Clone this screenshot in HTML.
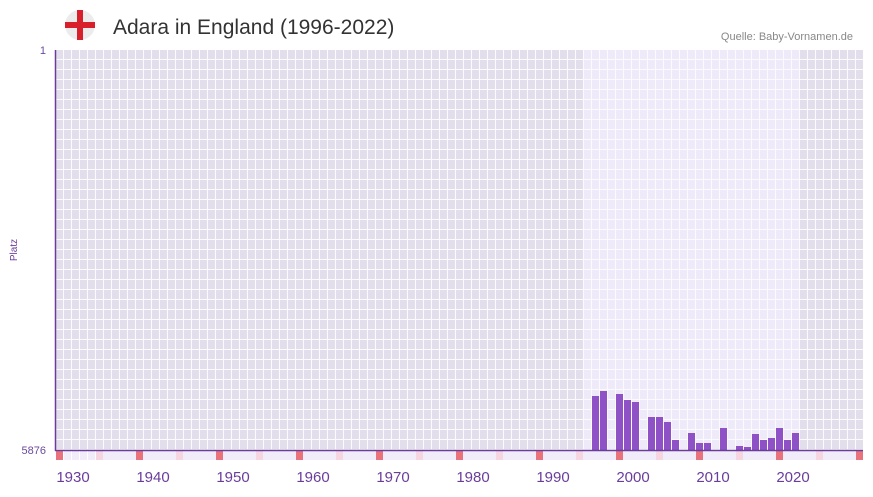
<!DOCTYPE html><html><head><style>body{margin:0;background:#fff}</style></head><body>
<svg width="873" height="492" xmlns="http://www.w3.org/2000/svg" font-family="Liberation Sans, sans-serif">
<defs>
<pattern id="gl" x="56" y="50" width="8" height="10" patternUnits="userSpaceOnUse">
<rect x="7" y="0" width="1" height="10" fill="#fbfafd"/>
<rect x="0" y="9" width="8" height="1" fill="#fbfafd"/>
</pattern>
</defs>
<rect x="56" y="50" width="807" height="400" fill="#e3deec"/>
<rect x="583.5" y="50" width="216" height="400" fill="#efeaf9"/>
<rect x="56" y="50" width="807" height="400" fill="url(#gl)"/>
<g fill="#8e52c6">
<rect x="592" y="396" width="7" height="54"/><rect x="600" y="391" width="7" height="59"/>
<rect x="616" y="394" width="7" height="56"/><rect x="624" y="400" width="7" height="50"/>
<rect x="632" y="402" width="7" height="48"/><rect x="648" y="417" width="7" height="33"/>
<rect x="656" y="417" width="7" height="33"/><rect x="664" y="422" width="7" height="28"/>
<rect x="672" y="440" width="7" height="10"/><rect x="688" y="433" width="7" height="17"/>
<rect x="696" y="443" width="7" height="7"/><rect x="704" y="443" width="7" height="7"/>
<rect x="720" y="428" width="7" height="22"/><rect x="736" y="446" width="7" height="4"/>
<rect x="744" y="447" width="7" height="3"/><rect x="752" y="434" width="7" height="16"/>
<rect x="760" y="440" width="7" height="10"/><rect x="768" y="438" width="7" height="12"/>
<rect x="776" y="428" width="7" height="22"/><rect x="784" y="440" width="7" height="10"/>
<rect x="792" y="433" width="7" height="17"/>
</g>
<rect x="56" y="451" width="807" height="9" fill="#f1ecf9"/>
<g fill="#f5d5df">
<rect x="96" y="451" width="7" height="9"/><rect x="176" y="451" width="7" height="9"/><rect x="256" y="451" width="7" height="9"/><rect x="336" y="451" width="7" height="9"/><rect x="416" y="451" width="7" height="9"/><rect x="496" y="451" width="7" height="9"/><rect x="576" y="451" width="7" height="9"/><rect x="656" y="451" width="7" height="9"/><rect x="736" y="451" width="7" height="9"/><rect x="816" y="451" width="7" height="9"/>
</g>
<g fill="#e8737c">
<rect x="56" y="451" width="7" height="9"/><rect x="136" y="451" width="7" height="9"/><rect x="216" y="451" width="7" height="9"/><rect x="296" y="451" width="7" height="9"/><rect x="376" y="451" width="7" height="9"/><rect x="456" y="451" width="7" height="9"/><rect x="536" y="451" width="7" height="9"/><rect x="616" y="451" width="7" height="9"/><rect x="696" y="451" width="7" height="9"/><rect x="776" y="451" width="7" height="9"/><rect x="856" y="451" width="7" height="9"/>
</g>
<g fill="#fff">
<rect x="63" y="451" width="1" height="9"/><rect x="71" y="451" width="1" height="9"/><rect x="79" y="451" width="1" height="9"/><rect x="87" y="451" width="1" height="9"/><rect x="95" y="451" width="1" height="9"/>
</g>
<rect x="56" y="451" width="807" height="9" fill="url(#gl)" fill-opacity="0"/>
<line x1="55.5" y1="50" x2="55.5" y2="451" stroke="#6a3d9a" stroke-width="1.5"/>
<line x1="55" y1="450.5" x2="863" y2="450.5" stroke="#6a3d9a" stroke-width="1.5"/>
<g fill="#6a4a9e" font-size="11" text-anchor="end">
<text x="46" y="54">1</text><text x="46" y="454">5876</text>
</g>
<text transform="translate(17,250) rotate(-90)" fill="#6a3d9a" font-size="10" text-anchor="middle">Platz</text>
<g fill="#6a3d9a" font-size="15" text-anchor="middle">
<text x="73" y="482">1930</text><text x="153" y="482">1940</text><text x="233" y="482">1950</text><text x="313" y="482">1960</text><text x="393" y="482">1970</text><text x="473" y="482">1980</text><text x="553" y="482">1990</text><text x="633" y="482">2000</text><text x="713" y="482">2010</text><text x="793" y="482">2020</text>
</g>
<circle cx="80" cy="25" r="15" fill="#ececec"/>
<rect x="77" y="10" width="6" height="30" fill="#d8202c"/>
<rect x="65" y="22" width="30" height="6" fill="#d8202c"/>
<text x="113" y="34" font-size="21" fill="#333">Adara in England (1996-2022)</text>
<text x="853" y="40" font-size="11" fill="#888" text-anchor="end">Quelle: Baby-Vornamen.de</text>
</svg>
</body></html>
